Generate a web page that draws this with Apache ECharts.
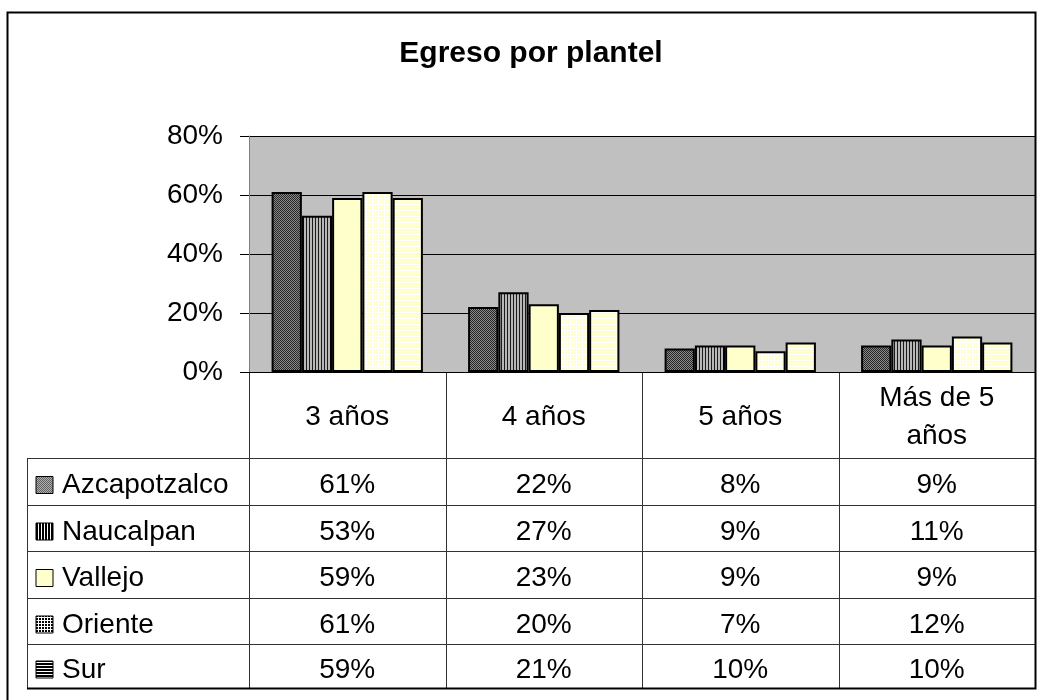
<!DOCTYPE html>
<html>
<head>
<meta charset="utf-8">
<script src="https://cdn.jsdelivr.net/npm/echarts@6/dist/echarts.min.js"></script>
<style>
  html, body { margin: 0; padding: 0; background: #fff; }
  #main { width: 1039px; height: 700px; }
</style>
</head>
<body>
<div id="main"></div>
<script>
// Egreso por plantel: share of graduates by years taken, per campus
const categories = ['3 años', '4 años', '5 años', 'Más de 5\naños'];
const seriesNames = ['Azcapotzalco', 'Naucalpan', 'Vallejo', 'Oriente', 'Sur'];
const azcapotzalco = [61, 22, 8, 9];
const naucalpan = [53, 27, 9, 11];
const vallejo = [59, 23, 9, 9];
const oriente = [61, 20, 7, 12];
const sur = [59, 21, 10, 10];
const yTicks = [0, 20, 40, 60, 80];

const values = [azcapotzalco, naucalpan, vallejo, oriente, sur];
const FONT = '"Liberation Sans", Arial, sans-serif';

function pattern(w, h, draw) {
  const c = document.createElement('canvas');
  c.width = w; c.height = h;
  draw(c.getContext('2d'));
  return { image: c, repeat: 'repeat' };
}
const YEL = '#FFFFCC';

// bar fills
const barFills = [
  pattern(2, 2, g => { g.fillStyle = '#8a8a8a'; g.fillRect(0, 0, 2, 2); g.fillStyle = '#262626'; g.fillRect(0, 0, 1, 1); g.fillRect(1, 1, 1, 1); }),
  pattern(3, 1, g => { g.fillStyle = '#b8b8b8'; g.fillRect(0, 0, 3, 1); g.fillStyle = '#1a1a1a'; g.fillRect(0, 0, 1, 1); }),
  YEL,
  pattern(3, 3, g => { g.fillStyle = YEL; g.fillRect(0, 0, 3, 3); g.fillStyle = '#fff'; g.fillRect(0, 0, 1, 3); g.fillRect(0, 0, 3, 1); }),
  pattern(1, 3, g => { g.fillStyle = YEL; g.fillRect(0, 0, 1, 3); g.fillStyle = '#fff'; g.fillRect(0, 0, 1, 1); })
];
// legend key fills in the data table
const keyFills = [
  pattern(2, 2, g => { g.fillStyle = '#b0b0b0'; g.fillRect(0, 0, 2, 2); g.fillStyle = '#606060'; g.fillRect(0, 0, 1, 1); g.fillRect(1, 1, 1, 1); }),
  pattern(3, 1, g => { g.fillStyle = '#000'; g.fillRect(0, 0, 3, 1); g.fillStyle = '#fff'; g.fillRect(2, 0, 1, 1); }),
  YEL,
  pattern(3, 3, g => { g.fillStyle = '#000'; g.fillRect(0, 0, 3, 3); g.fillStyle = '#fff'; g.fillRect(2, 0, 1, 3); g.fillRect(0, 2, 3, 1); }),
  pattern(1, 3, g => { g.fillStyle = '#000'; g.fillRect(0, 0, 1, 3); g.fillStyle = '#fff'; g.fillRect(0, 2, 1, 1); })
];

const chart = echarts.init(document.getElementById('main'), null, { renderer: 'canvas' });

chart.setOption({
  animation: false,
  backgroundColor: '#fff',
  grid: { left: 249, right: 4, top: 136, bottom: 328, show: true, backgroundColor: '#c0c0c0', borderWidth: 0 },
  xAxis: {
    type: 'category', data: categories,
    axisLine: { lineStyle: { color: '#000', width: 1 } },
    axisTick: { show: false }, axisLabel: { show: false }
  },
  yAxis: {
    type: 'value', min: yTicks[0], max: yTicks[yTicks.length - 1], interval: yTicks[1] - yTicks[0],
    axisLine: { show: true, lineStyle: { color: '#808080', width: 1 } },
    axisTick: { show: true, length: 9, lineStyle: { color: '#000' } },
    axisLabel: { formatter: '{value}%', fontSize: 28, color: '#000', margin: 26, fontFamily: FONT },
    splitLine: { lineStyle: { color: '#000', width: 1 } }
  },
  series: seriesNames.map((n, i) => ({
    type: 'bar', name: n, data: values[i], silent: true,
    barGap: '0%', barCategoryGap: '23%',
    itemStyle: { color: barFills[i], borderColor: '#000', borderWidth: 2 }
  }))
});

// data table under the plot, aligned to the category axis
const yZero = chart.convertToPixel({ yAxisIndex: 0 }, 0);
const centers = categories.map((c, i) => chart.convertToPixel({ xAxisIndex: 0 }, i));
const colW = centers[1] - centers[0];
const xLeftTable = 27;
const xAxisX = centers[0] - colW / 2;
const xRight = centers[centers.length - 1] + colW / 2;
const rowLines = [458, 505, 551, 598, 644, 688];
const tableBottom = rowLines[rowLines.length - 1];
const LINE = '#333';

const g = [];
function hline(x1, x2, y) { g.push({ type: 'line', shape: { x1, y1: Math.round(y) + 0.5, x2, y2: Math.round(y) + 0.5 }, style: { stroke: LINE, lineWidth: 1 }, silent: true }); }
function vline(x, y1, y2) { g.push({ type: 'line', shape: { x1: Math.round(x) + 0.5, y1, x2: Math.round(x) + 0.5, y2 }, style: { stroke: LINE, lineWidth: 1 }, silent: true }); }

// column boundaries
vline(xAxisX, yZero, tableBottom);
for (let i = 1; i < categories.length; i++) vline(xAxisX + colW * i, yZero, tableBottom);
vline(xLeftTable, rowLines[0], tableBottom);
rowLines.forEach(y => hline(xLeftTable, xRight, y));

// header row
categories.forEach((c, i) => {
  g.push({ type: 'text', x: centers[i], y: (yZero + rowLines[0]) / 2 + 2, silent: true,
    style: { text: c, fontSize: 28, fontFamily: FONT, fill: '#000', align: 'center', verticalAlign: 'middle', lineHeight: 38 } });
});

// series rows
seriesNames.forEach((n, r) => {
  const cy = (rowLines[r] + rowLines[r + 1]) / 2 + 4;
  g.push({ type: 'rect', shape: { x: 36, y: cy - 9, width: 17, height: 17 }, style: { fill: keyFills[r], stroke: '#000', lineWidth: 1 }, silent: true });
  g.push({ type: 'text', x: 62, y: cy, silent: true,
    style: { text: n, fontSize: 28, fontFamily: FONT, fill: '#000', align: 'left', verticalAlign: 'middle' } });
  values[r].forEach((v, i) => {
    g.push({ type: 'text', x: centers[i], y: cy, silent: true,
      style: { text: v + '%', fontSize: 28, fontFamily: FONT, fill: '#000', align: 'center', verticalAlign: 'middle' } });
  });
});

// title
g.push({ type: 'text', x: 531, y: 54, silent: true,
  style: { text: 'Egreso por plantel', fontSize: 30, fontWeight: 'bold', fontFamily: FONT, fill: '#000', align: 'center', verticalAlign: 'middle' } });

// chart frame
g.push({ type: 'polyline', shape: { points: [[7.5, 700], [7.5, 12.5], [Math.round(xRight) + 0.5, 12.5], [Math.round(xRight) + 0.5, tableBottom + 0.5], [xLeftTable, tableBottom + 0.5]] }, style: { stroke: '#000', lineWidth: 2, fill: null }, silent: true });

chart.setOption({ graphic: g });
</script>
</body>
</html>
